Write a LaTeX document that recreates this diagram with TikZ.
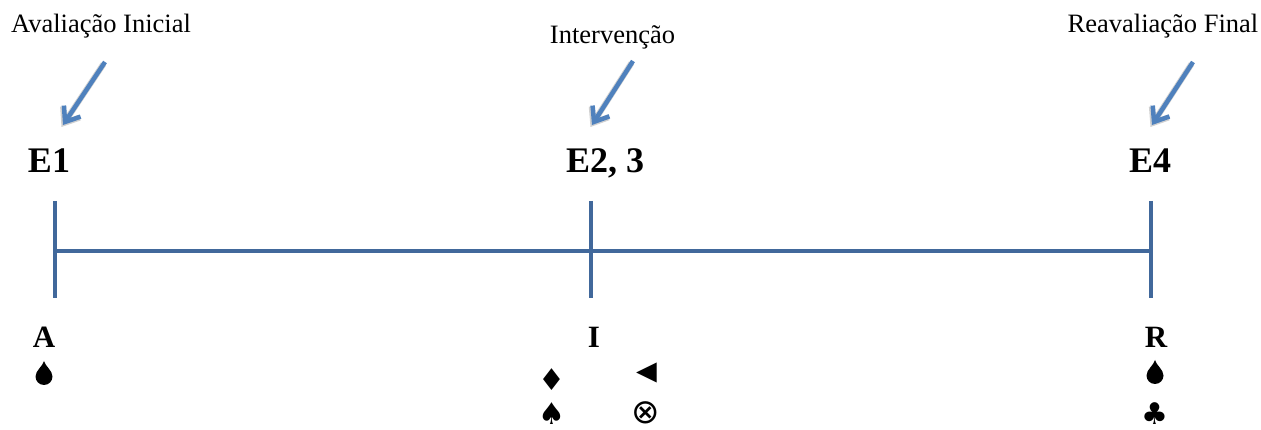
\documentclass[tikz,border=0pt]{standalone}
\usepackage{fontspec}
\setmainfont{Liberation Serif}
\newfontfamily\symfont{DejaVu Sans}
\usetikzlibrary{arrows.meta}
\definecolor{axisblue}{RGB}{65,104,155}
\definecolor{arrowblue}{RGB}{79,129,189}
\tikzset{
  axisline/.style={draw=axisblue,line width=4.5pt},
  callout/.style={draw=arrowblue,line width=4.5pt,-{Straight Barb[length=13pt,width=20pt,line width=4.5pt]}},
  calloutshadow/.style={draw=black,opacity=0.18,line width=6pt,-{Straight Barb[length=13pt,width=20pt,line width=6pt]}},
  toplabel/.style={inner sep=0pt,anchor=base,font=\fontsize{26.5}{30}\selectfont},
  phase/.style={inner sep=0pt,anchor=base,font=\fontsize{36}{40}\selectfont\bfseries},
  letter/.style={inner sep=0pt,anchor=base,font=\fontsize{31}{34}\selectfont\bfseries},
  sym/.style={inner sep=0pt,font=\symfont\fontsize{30}{34}\selectfont}
}
\newcommand{\droplet}[2]{\fill[black] (#1,#2) ++(0,15.5) .. controls +(1,-5) and +(0,6) .. ++(8.5,-15.5) arc[start angle=0,end angle=-180,radius=8.5] .. controls +(0,6) and +(-1,-5) .. cycle;}
\begin{document}
\begin{tikzpicture}[x=1pt,y=1pt]
\useasboundingbox (0,0) rectangle (1261,430);
% timeline
\coordinate (L0) at (55,179);
\coordinate (R0) at (1151,179);
\coordinate (t1a) at (55,229); \coordinate (t1b) at (55,132);
\coordinate (t2a) at (591,229); \coordinate (t2b) at (591,132);
\coordinate (t3a) at (1151,229); \coordinate (t3b) at (1151,132);
\draw[axisline] (L0) -- (R0);
\draw[axisline] (t1a) -- (t1b);
\draw[axisline] (t2a) -- (t2b);
\draw[axisline] (t3a) -- (t3b);
% top labels
\node[toplabel] (lab1) at (101,397) {Avaliação Inicial};
\node[toplabel] (lab2) at (612.5,386) {Intervenção};
\node[toplabel] (lab3) at (1163,397) {Reavaliação Final};
% callout arrows
\coordinate (a1s) at (105,368); \coordinate (a1e) at (63,305);
\coordinate (a2s) at (633,369); \coordinate (a2e) at (592,305);
\coordinate (a3s) at (1193,368); \coordinate (a3e) at (1152,305);
\foreach \s/\e in {a1s/a1e,a2s/a2e,a3s/a3e}{
  \draw[calloutshadow] ([shift={(-1.5,-2)}]\s) -- ([shift={(-1.5,-2)}]\e);
  \draw[callout] (\s) -- (\e);
}
% phases
\node[phase] (E1) at (49,257) {E1};
\node[phase] (E23) at (605,257) {E2, 3};
\node[phase] (E4) at (1150,257) {E4};
% letters
\node[letter] (A) at (44,82) {A};
\node[letter] (I) at (594,82) {I};
\node[letter] (R) at (1156,82) {R};
% symbols
\droplet{44}{53.5}
\droplet{1155}{54.5}
\node[sym] (dia) at (552,50) {♦};
\node[sym,font=\symfont\fontsize{27}{30}\selectfont] (tri) at (647,57) {\scalebox{1}[1.5]{◄}};
\node[sym] (spade) at (552,16) {♠};
\node[sym,font=\symfont\fontsize{34}{38}\selectfont] (otimes) at (646,17) {⊗};
\node[sym] (club) at (1155,16) {♣};
\end{tikzpicture}
\end{document}
